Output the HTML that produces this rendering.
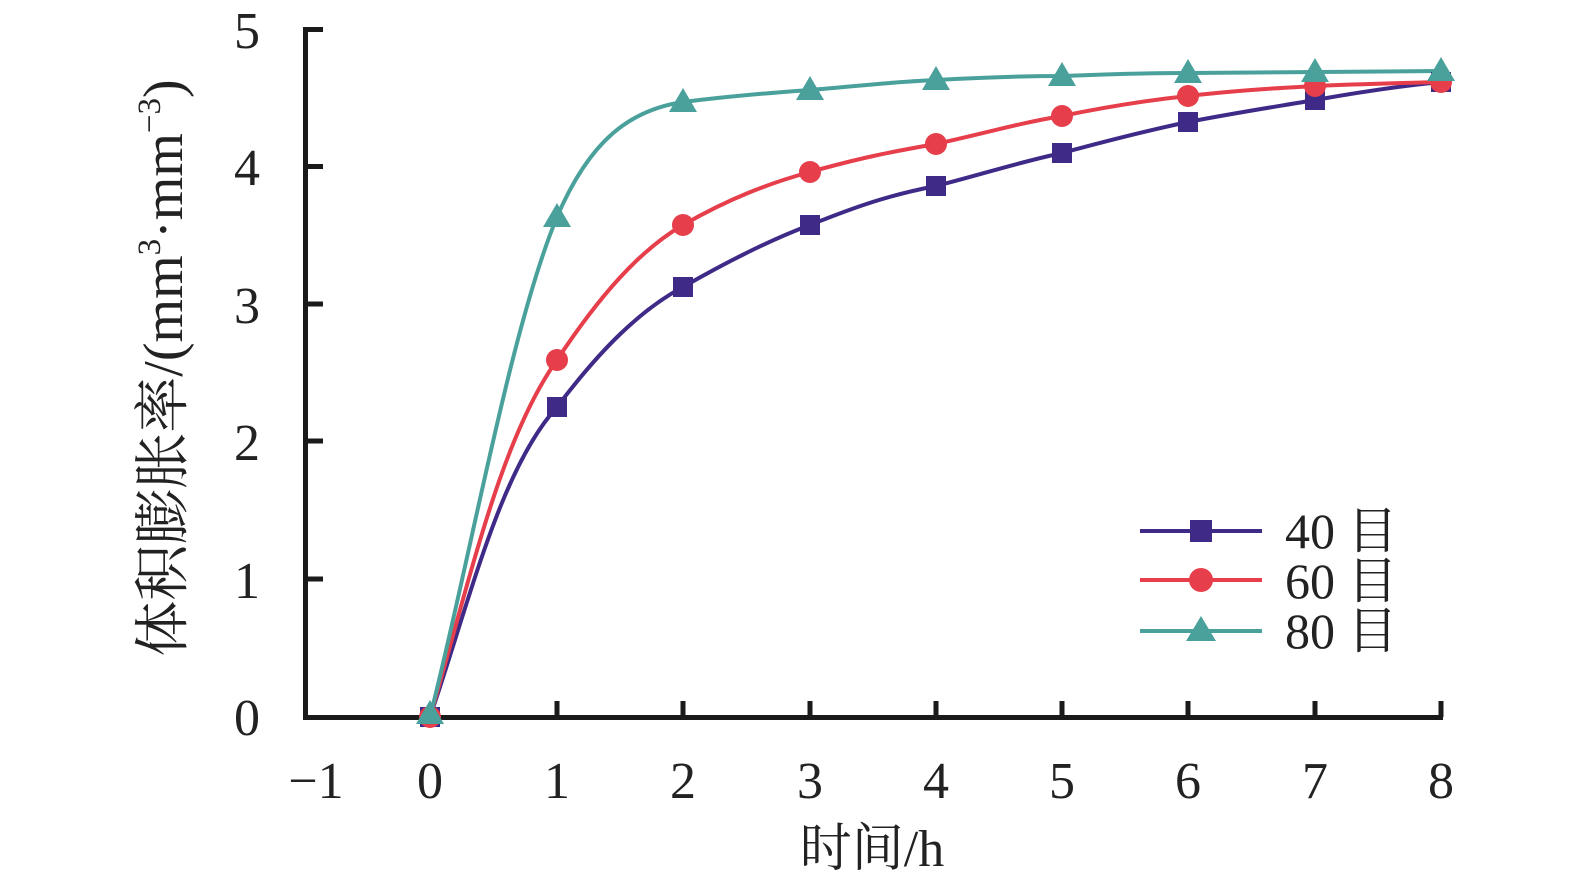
<!DOCTYPE html>
<html><head><meta charset="utf-8"><style>
body{margin:0;background:#fff}
text{font-family:"Liberation Serif","Noto Serif CJK SC",serif;fill:#222}
</style></head><body>
<svg width="1575" height="890" xmlns="http://www.w3.org/2000/svg">
<g stroke="#1a1a1a" stroke-width="5" fill="none">
<path d="M305.5,27 V717.5 H1443"/>
<path d="M305,29.5 h18 M305,166.5 h18 M305,304 h18 M305,441 h18 M305,579 h18"/>
<path d="M557,717 v-16 M683,717 v-16 M810,717 v-16 M936,717 v-16 M1062,717 v-16 M1188,717 v-16 M1315,717 v-16 M1441,717 v-16"/>
</g>
<g font-size="52" text-anchor="middle">
<text x="316" y="798">−1</text><text x="430" y="798">0</text><text x="557" y="798">1</text><text x="683" y="798">2</text><text x="810" y="798">3</text><text x="936" y="798">4</text><text x="1062" y="798">5</text><text x="1188" y="798">6</text><text x="1315" y="798">7</text><text x="1441" y="798">8</text>
</g>
<g font-size="52" text-anchor="end">
<text x="260" y="735">0</text><text x="260" y="598">1</text><text x="260" y="460">2</text><text x="260" y="323">3</text><text x="260" y="185">4</text><text x="260" y="48">5</text>
</g>
<text x="872" y="866" font-size="52" text-anchor="middle">时间/h</text>
<text transform="translate(182,368) rotate(-90)" font-size="56" text-anchor="middle">体积膨胀率/(mm<tspan font-size="33" dy="-22">3</tspan><tspan dy="22">·mm</tspan><tspan font-size="33" dy="-22">−3</tspan><tspan dy="22">)</tspan></text>
<g fill="none" stroke-width="4">
<path stroke="#3f2a88" d="M430,717 C470,600 500,470 557,407 C600,350 640,310 683,287 C730,260 770,240 810,225 C860,205 890,195 936,186 C990,172 1020,162 1062,153 C1110,140 1150,130 1188,122 C1240,112 1280,106 1315,100 C1360,92 1400,86 1441,82"/>
<path stroke="#e63e4a" d="M430,717 C470,580 500,440 557,360 C600,295 640,250 683,225 C730,198 770,183 810,172 C860,158 890,152 936,144 C990,132 1020,123 1062,116 C1110,106 1150,100 1188,96 C1240,90 1280,88 1315,86 C1360,84 1400,83 1441,82"/>
<path stroke="#4aa19c" d="M430,717 C470,560 510,330 557,217 C590,140 630,110 683,102 C730,96 770,93 810,90 C860,86 890,82 936,80 C990,77 1020,76 1062,76 C1110,74 1150,73 1188,73 L1441,71"/>
</g>
<g fill="#3f2a88">
<rect x="420" y="707" width="20" height="20"/><rect x="547" y="397" width="20" height="20"/><rect x="673" y="277" width="20" height="20"/><rect x="800" y="215" width="20" height="20"/><rect x="926" y="176" width="20" height="20"/><rect x="1052" y="143" width="20" height="20"/><rect x="1178" y="112" width="20" height="20"/><rect x="1305" y="90" width="20" height="20"/><rect x="1431" y="72" width="20" height="20"/>
</g>
<g fill="#e63e4a">
<circle cx="430" cy="717" r="11"/><circle cx="557" cy="360" r="11"/><circle cx="683" cy="225" r="11"/><circle cx="810" cy="172" r="11"/><circle cx="936" cy="144" r="11"/><circle cx="1062" cy="116" r="11"/><circle cx="1188" cy="96" r="11"/><circle cx="1315" cy="86" r="11"/><circle cx="1441" cy="82" r="11"/>
</g>
<g fill="#4aa19c">
<path d="M430,700 l14,24 h-28z"/><path d="M557,203 l14,24 h-28z"/><path d="M683,88 l14,24 h-28z"/><path d="M810,76 l14,24 h-28z"/><path d="M936,66 l14,24 h-28z"/><path d="M1062,62 l14,24 h-28z"/><path d="M1188,59 l14,24 h-28z"/><path d="M1315,58 l14,24 h-28z"/><path d="M1441,57 l14,24 h-28z"/>
</g>
<g stroke-width="4">
<line x1="1140" y1="531" x2="1262" y2="531" stroke="#3f2a88"/><rect x="1190" y="520" width="22" height="22" fill="#3f2a88"/>
<line x1="1140" y1="580" x2="1262" y2="580" stroke="#e63e4a"/><circle cx="1201" cy="580" r="12" fill="#e63e4a"/>
<line x1="1140" y1="631" x2="1262" y2="631" stroke="#4aa19c"/><path d="M1201,616 l15,25 h-30z" fill="#4aa19c"/>
</g>
<g font-size="50">
<text x="1285" y="548">40 目</text><text x="1285" y="598">60 目</text><text x="1285" y="648">80 目</text>
</g>
</svg>
</body></html>
